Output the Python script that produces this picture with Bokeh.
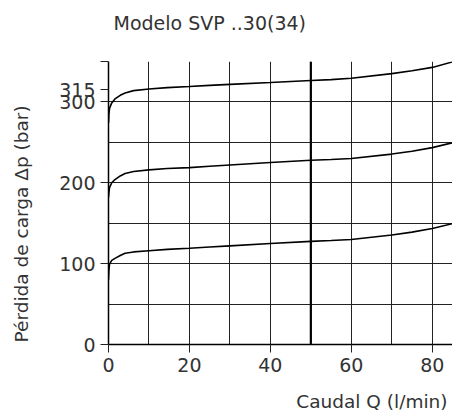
from bokeh.plotting import figure
from bokeh.models import Range1d, FixedTicker, Span, Title
from bokeh.embed import file_html
from bokeh.resources import INLINE

# Flow Q (l/min)
Q = [0, 0.1, 0.25, 0.8, 1.6, 2.9, 4.1, 6.2, 10, 14.5, 20, 25, 30, 40, 50, 55, 60, 70, 75, 80, 85]
# Pressure drop curves (bar)
p_100 = [80, 92, 99.5, 104, 106.5, 110, 112.8, 114.5, 116, 117.6, 119, 120.5, 122, 125, 127.6, 128.6, 129.8, 135.5, 139, 143.5, 149.5]
p_200 = [182, 188, 194, 200, 204, 208.5, 211.5, 214, 216, 217.6, 218.8, 220.5, 222, 225, 227.8, 228.8, 230, 235.5, 239, 243.5, 249.5]
p_315 = [274, 285, 292, 298.8, 303.7, 308.2, 311, 314, 316, 317.7, 319, 320.5, 321.7, 324, 326.5, 327.6, 329.3, 335, 338.5, 342.7, 349.5]

x_ticks = [0, 20, 40, 60, 80]
y_ticks = [0, 100, 200, 300, 315, 350]
x_grid = [10, 20, 30, 40, 50, 60, 70, 80]
y_grid = [50, 100, 150, 200, 250, 300, 350]
marked_q = 50

title_text = "Modelo SVP ..30(34)"
x_label = "Caudal Q (l/min)"
y_label = "Pérdida de carga Δp (bar)"

FONT = "DejaVu Sans"
TXT = "#333333"
W, H = 452, 411

p = figure(width=W, height=H, x_range=Range1d(0, 85), y_range=Range1d(0, 350),
           output_backend="svg", toolbar_location=None,
           min_border_left=108, min_border_right=0, min_border_top=61, min_border_bottom=67)
p.outline_line_color = None
p.background_fill_color = "white"

for ax in (p.xaxis[0], p.yaxis[0]):
    ax.major_tick_out = 8
    ax.major_tick_in = 0
    ax.minor_tick_out = 0
    ax.minor_tick_in = 0
    ax.axis_line_color = "black"
    ax.axis_line_width = 1.5
    ax.major_tick_line_color = "#222222"
    ax.major_label_text_font = FONT
    ax.major_label_text_font_size = "19px"
    ax.major_label_text_color = TXT
    ax.major_label_standoff = 5
    # blank label used only as spacing between tick labels and the axis title
    ax.axis_label = " "
    ax.axis_label_text_font_size = "1px"

p.yaxis.axis_label_standoff = 16
p.xaxis.axis_label_standoff = 10

p.xaxis.ticker = FixedTicker(ticks=x_ticks)
p.yaxis.ticker = FixedTicker(ticks=y_ticks)
p.yaxis.major_label_overrides = {350: ""}

p.xgrid.ticker = FixedTicker(ticks=x_grid)
p.ygrid.ticker = FixedTicker(ticks=y_grid)
for g in (p.xgrid[0], p.ygrid[0]):
    g.grid_line_color = "#222222"
    g.grid_line_width = 1
    g.grid_line_alpha = 1

p.add_layout(Span(location=marked_q, dimension="height", line_color="black", line_width=2.2))

lstyle = dict(text_font=FONT, text_font_size="18.5px", text_font_style="normal", text_color=TXT)

# spacer between the title and the frame
p.add_layout(Title(text=" ", text_font_size="1px", standoff=23), "above")
p.title.text = title_text
p.title.align = "left"
p.title.offset = 5
p.title.standoff = 4
p.title.text_font = FONT
p.title.text_font_size = "19px"
p.title.text_font_style = "normal"
p.title.text_color = TXT

p.add_layout(Title(text=y_label, align="left", offset=2, standoff=10, **lstyle), "left")
p.add_layout(Title(text=x_label, align="right", offset=5, standoff=0, **lstyle), "below")

for ys in (p_100, p_200, p_315):
    p.line(Q, ys, line_color="black", line_width=1.6)

open("out.html", "w").write(file_html(p, INLINE))
